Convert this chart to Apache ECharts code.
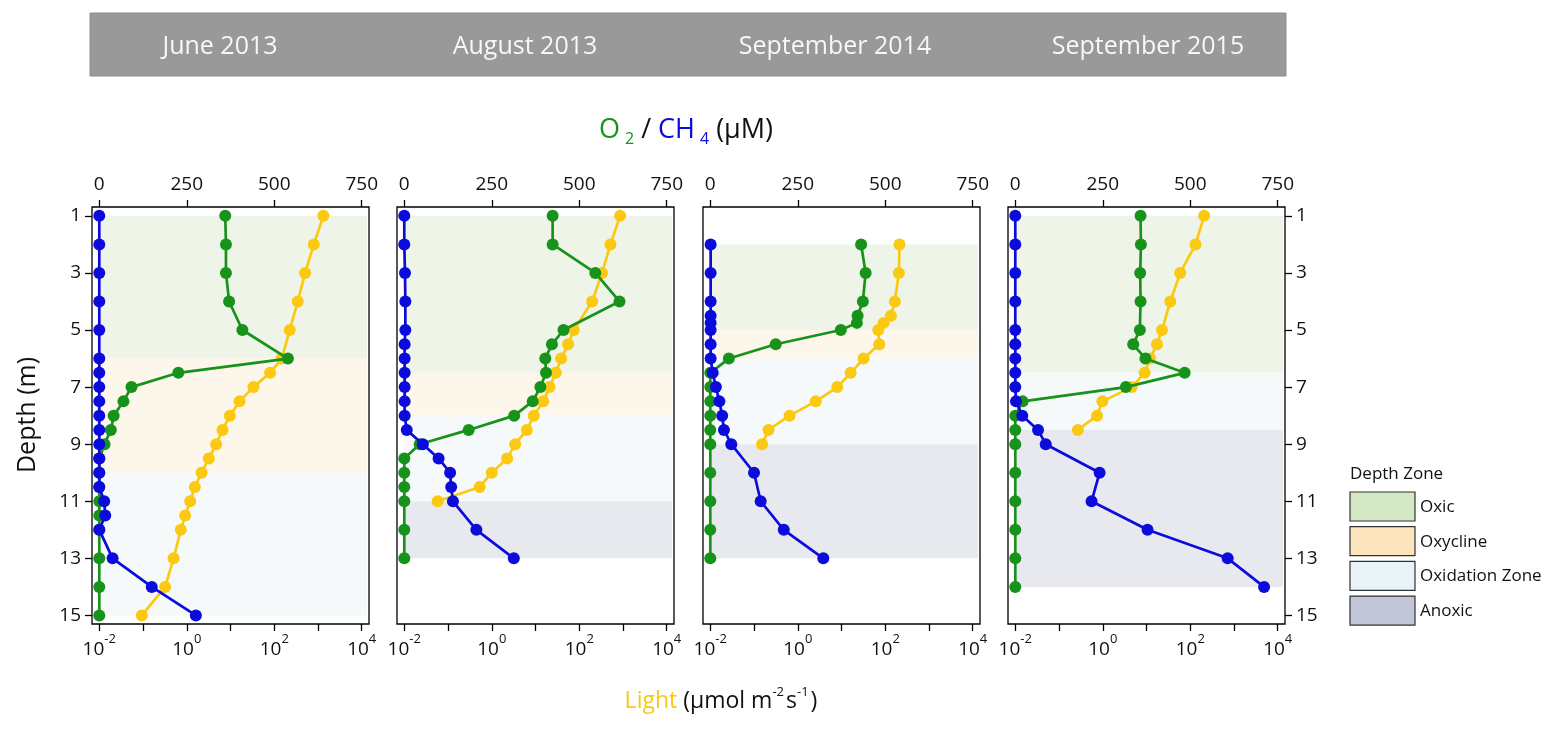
<!DOCTYPE html>
<html>
<head>
<meta charset="utf-8">
<script src="https://cdn.jsdelivr.net/npm/echarts@6/dist/echarts.min.js"></script>
<style>
  html, body { margin: 0; padding: 0; background: #fff; }
  #chart { width: 1559px; height: 731px; }
</style>
</head>
<body>
<div id="chart"></div>
<script>
// campaign titles
var months = ['June 2013', 'August 2013', 'September 2014', 'September 2015'];

// depth (m) of the samples, one list per campaign
var depth1 = [1, 2, 3, 4, 5, 6, 6.5, 7, 7.5, 8, 8.5, 9, 9.5, 10, 10.5, 11, 11.5, 12, 13, 14, 15];
var depth2 = [1, 2, 3, 4, 5, 5.5, 6, 6.5, 7, 7.5, 8, 8.5, 9, 9.5, 10, 10.5, 11, 12, 13];
var depth3 = [2, 3, 4, 4.5, 4.75, 5, 5.5, 6, 6.5, 7, 7.5, 8, 8.5, 9, 10, 11, 12, 13];
var depth4 = [1, 2, 3, 4, 5, 5.5, 6, 6.5, 7, 7.5, 8, 8.5, 9, 10, 11, 12, 13, 14];

// O2 (uM)
var o2_1 = [360, 362, 362, 371, 409, 539, 226, 92, 69, 41, 33, 15, 0, 0, 0, 0, 0, 0, 0, 0, 0];
var o2_2 = [424, 424, 546, 615, 455, 422, 403, 405, 389, 367, 314, 184, 44, 0, 0, 0, 0, 0, 0];
var o2_3 = [431, 444, 436, 421, 419, 373, 187, 53, 0, 0, 0, 0, 0, 0, 0, 0, 0, 0];
var o2_4 = [358, 359, 357, 358, 356, 337, 372, 484, 316, 21, 0, 0, 0, 0, 0, 0, 0, 0];

// CH4 (uM)
var ch4_1 = [0, 0, 0, 0, 0, 0, 0, 0, 0, 0, 0, 0, 0, 0, 0, 14, 17, 0, 38, 150, 276];
var ch4_2 = [0, 0, 2, 3, 3, 1, 1, 1, 1, 1, 1, 7, 53, 98, 131, 134, 139, 206, 313];
var ch4_3 = [1, 1, 1, 1, 1, 1, 1, 1, 7, 16, 26, 34, 39, 60, 125, 144, 210, 323];
var ch4_4 = [0, 0, 0, 0, 0, 0, 0, 0, 0, 2, 20, 65, 87, 241, 218, 378, 607, 711];

// light (umol m-2 s-1), from the top of each depth list
var light1 = [1330, 802, 508, 345, 226, 149, 80.5, 33.5, 16.1, 9.66, 6.57, 4.71, 3.2, 2.18, 1.53, 1.2, 0.92, 0.73, 0.5, 0.32, 0.094];
var light2 = [859, 517, 333, 197, 75, 55.7, 38.6, 29.1, 20.9, 15, 9.16, 6.34, 3.43, 2.25, 1.0, 0.53, 0.058];
var light3 = [212, 205, 166, 135, 91.6, 69.2, 73, 32, 16.2, 8.0, 2.58, 0.65, 0.214, 0.153];
var light4 = [208, 132, 59, 35, 22.6, 17.4, 12, 9.08, 4.59, 0.98, 0.74, 0.27];

// depth zones [zone, from, to]
var zones1 = [['Oxic', 1, 6], ['Oxycline', 6, 10], ['Oxidation Zone', 10, 15]];
var zones2 = [['Oxic', 1, 6.5], ['Oxycline', 6.5, 8], ['Oxidation Zone', 8, 11], ['Anoxic', 11, 13]];
var zones3 = [['Oxic', 2, 5], ['Oxycline', 5, 6], ['Oxidation Zone', 6, 9], ['Anoxic', 9, 13]];
var zones4 = [['Oxic', 1, 6.5], ['Oxidation Zone', 6.5, 8.5], ['Anoxic', 8.5, 14]];

// tick labels
var concTicks = [0, 250, 500, 750];
var lightTicks = [0.01, 0.1, 1, 10, 100, 1000, 10000];
var lightLabels = [0.01, 1, 100, 10000];
var depthTicks = [1, 3, 5, 7, 9, 11, 13, 15];

var zoneNames = ['Oxic', 'Oxycline', 'Oxidation Zone', 'Anoxic'];
var zoneFill = { 'Oxic': '#eef5e8', 'Oxycline': '#fdf6ea', 'Oxidation Zone': '#f5f9fa', 'Anoxic': '#e8e9ef' };
var zoneKey = { 'Oxic': '#d4e8c6', 'Oxycline': '#fde4bf', 'Oxidation Zone': '#e7f3f7', 'Anoxic': '#c3c5d9' };

var panels = [
    { depth: depth1, o2: o2_1, ch4: ch4_1, light: light1, zones: zones1 },
    { depth: depth2, o2: o2_2, ch4: ch4_2, light: light2, zones: zones2 },
    { depth: depth3, o2: o2_3, ch4: ch4_3, light: light3, zones: zones3 },
    { depth: depth4, o2: o2_4, ch4: ch4_4, light: light4, zones: zones4 }
];

var GREEN = '#17921a', BLUE = '#0b0bdc', YELLOW = '#fbc812';
var FONT = 'Open Sans';
var gridLeft = [92, 397, 703, 1008];
var titleX = [220, 525, 835, 1148];

function pairs(xs, ys) {
    var out = [];
    for (var k = 0; k < xs.length; k++) {
        out.push([xs[k], ys[k]]);
    }
    return out;
}

var tickStyle = { color: '#000', width: 1.3 };
var grids = [], xAxes = [], yAxes = [], series = [];

panels.forEach(function (p, i) {
    grids.push({
        left: gridLeft[i], top: 207, width: 277, height: 417,
        show: true, borderColor: '#000', borderWidth: 1.3, backgroundColor: 'transparent'
    });

    // top axis: O2 / CH4
    xAxes.push({
        gridIndex: i, type: 'value', position: 'top',
        min: -20.83, max: 770.83,
        axisLine: { show: false, onZero: false },
        axisTick: { show: true, inside: false, length: 7, lineStyle: tickStyle, customValues: concTicks },
        axisLabel: { margin: 13, fontSize: 19, color: '#111', fontFamily: FONT, customValues: concTicks },
        splitLine: { show: false }
    });

    // bottom axis: light (log)
    xAxes.push({
        gridIndex: i, type: 'log', position: 'bottom',
        min: Math.pow(10, -2.1667), max: Math.pow(10, 4.1667),
        axisLine: { show: false, onZero: false },
        axisTick: { show: true, inside: false, length: 7, lineStyle: tickStyle, customValues: lightTicks },
        axisLabel: {
            margin: 9, color: '#111', fontFamily: FONT, customValues: lightLabels,
            formatter: function (v) {
                return '{b|10}{s|' + Math.round(Math.log10(v)) + '}';
            },
            rich: {
                b: { fontSize: 19, fontFamily: FONT, color: '#111', lineHeight: 26, verticalAlign: 'bottom' },
                s: { fontSize: 13, fontFamily: FONT, color: '#111', lineHeight: 14, verticalAlign: 'top' }
            }
        },
        splitLine: { show: false }
    });

    var showDepth = (i === 0 || i === 3);
    yAxes.push({
        gridIndex: i, type: 'value', inverse: true,
        position: i === 3 ? 'right' : 'left',
        min: 0.69, max: 15.3,
        axisLine: { show: false, onZero: false },
        axisTick: { show: showDepth, inside: false, length: 7, lineStyle: tickStyle, customValues: depthTicks },
        axisLabel: { show: showDepth, margin: 11, fontSize: 19, color: '#111', fontFamily: FONT, customValues: depthTicks },
        splitLine: { show: false }
    });

    var areas = p.zones.map(function (z) {
        return [
            { xAxis: 0, yAxis: z[1], itemStyle: { color: zoneFill[z[0]] } },
            { xAxis: 765, yAxis: z[2] }
        ];
    });

    series.push({
        type: 'line', name: 'Light', xAxisIndex: 2 * i + 1, yAxisIndex: i,
        data: pairs(p.light, p.depth),
        symbol: 'circle', symbolSize: 12, z: 3,
        lineStyle: { color: YELLOW, width: 2.7 }, itemStyle: { color: YELLOW }
    });
    series.push({
        type: 'line', name: 'O2', xAxisIndex: 2 * i, yAxisIndex: i,
        data: pairs(p.o2, p.depth),
        symbol: 'circle', symbolSize: 12, z: 4,
        lineStyle: { color: GREEN, width: 2.7 }, itemStyle: { color: GREEN },
        markArea: { silent: true, z: 1, itemStyle: { borderWidth: 0 }, data: areas }
    });
    series.push({
        type: 'line', name: 'CH4', xAxisIndex: 2 * i, yAxisIndex: i,
        data: pairs(p.ch4, p.depth),
        symbol: 'circle', symbolSize: 12, z: 5,
        lineStyle: { color: BLUE, width: 2.7 }, itemStyle: { color: BLUE }
    });
});

// header band, axis titles and zone key
var graphics = [
    { type: 'rect', shape: { x: 90, y: 13, width: 1196, height: 63 }, style: { fill: '#999999', stroke: '#8c8c8c', lineWidth: 1 } },
    {
        type: 'text', x: 686, y: 130,
        style: {
            text: '{g|O}{gs|2}{k| / }{b|CH}{bs|4}{k| (µM)}',
            align: 'center', verticalAlign: 'middle',
            rich: {
                g: { fontSize: 27, fontFamily: FONT, fill: GREEN, lineHeight: 34, verticalAlign: 'middle' },
                gs: { fontSize: 16, fontFamily: FONT, fill: GREEN, lineHeight: 17, verticalAlign: 'bottom', padding: [0, 0, 0, 5] },
                b: { fontSize: 27, fontFamily: FONT, fill: BLUE, lineHeight: 34, verticalAlign: 'middle' },
                bs: { fontSize: 16, fontFamily: FONT, fill: BLUE, lineHeight: 17, verticalAlign: 'bottom', padding: [0, 0, 0, 5] },
                k: { fontSize: 27, fontFamily: FONT, fill: '#111', lineHeight: 34, verticalAlign: 'middle' }
            }
        }
    },
    {
        type: 'text', x: 721, y: 701,
        style: {
            text: '{y|Light}{k| (µmol m}{s|-2}{k|s}{s|-1}{k|)}',
            align: 'center', verticalAlign: 'middle',
            rich: {
                y: { fontSize: 23, fontFamily: FONT, fill: YELLOW, lineHeight: 30, verticalAlign: 'middle' },
                k: { fontSize: 23, fontFamily: FONT, fill: '#111', lineHeight: 30, verticalAlign: 'middle' },
                s: { fontSize: 13, fontFamily: FONT, fill: '#111', lineHeight: 14, verticalAlign: 'top', padding: [0, 2, 0, 0] }
            }
        }
    },
    {
        type: 'text', x: 28, y: 415, rotation: Math.PI / 2,
        style: { text: 'Depth (m)', fontSize: 25, fontFamily: FONT, fill: '#111', align: 'center', verticalAlign: 'middle' }
    },
    {
        type: 'text', x: 1350, y: 474,
        style: { text: 'Depth Zone', fontSize: 17, fontFamily: FONT, fill: '#111', align: 'left', verticalAlign: 'middle' }
    }
];

months.forEach(function (m, i) {
    graphics.push({
        type: 'text', x: titleX[i], y: 47,
        style: { text: m, fontSize: 25, fontFamily: FONT, fill: '#f7f7f7', align: 'center', verticalAlign: 'middle' }
    });
});

zoneNames.forEach(function (z, i) {
    var top = 492 + i * 34.7;
    graphics.push({
        type: 'rect', shape: { x: 1350, y: top, width: 65, height: 29 },
        style: { fill: zoneKey[z], stroke: '#333', lineWidth: 1.2 }
    });
    graphics.push({
        type: 'text', x: 1420, y: top + 15,
        style: { text: z, fontSize: 17, fontFamily: FONT, fill: '#111', align: 'left', verticalAlign: 'middle' }
    });
});

var chart = echarts.init(document.getElementById('chart'));
chart.setOption({
    animation: false,
    backgroundColor: '#fff',
    textStyle: { fontFamily: FONT },
    grid: grids,
    xAxis: xAxes,
    yAxis: yAxes,
    series: series,
    graphic: graphics
});
</script>
</body>
</html>
